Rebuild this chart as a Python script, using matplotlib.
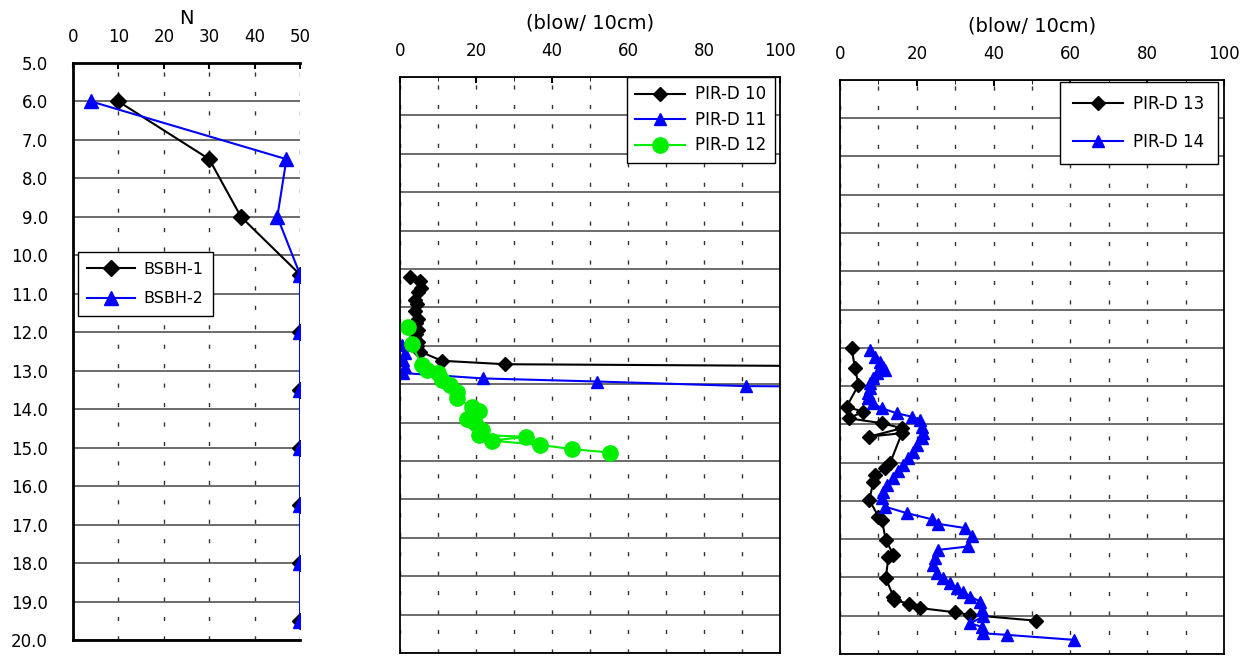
import numpy as np
import matplotlib
matplotlib.use('Agg')
import matplotlib.pyplot as plt

# ---- data (depth in m, N or blow/10cm) ----
bsbh1_n = [10, 30, 37, 50, 50, 50, 50, 50, 50, 50]
bsbh1_d = [6.0, 7.5, 9.0, 10.5, 12.0, 13.5, 15.0, 16.5, 18.0, 19.5]
bsbh2_n = [4, 47, 45, 50, 50, 50, 50, 50, 50, 50]
bsbh2_d = [6.0, 7.5, 9.0, 10.5, 12.0, 13.5, 15.0, 16.5, 18.0, 19.5]

pird10_n = [2.6, 5.3, 5.6, 4.7, 3.9, 4.4, 3.9, 4.7, 4.2, 4.7, 4.2, 4.7, 4.4, 5.3, 11.0, 27.6, 150]
pird10_d = [10.2, 10.3, 10.5, 10.6, 10.8, 10.9, 11.1, 11.3, 11.4, 11.6, 11.7, 11.9, 12.0, 12.15, 12.39, 12.48, 12.55]

pird11_n = [0.5, 1.3, 0.8, 1.3, 0.8, 21.9, 51.9, 91.0, 150]
pird11_d = [11.98, 12.19, 12.37, 12.55, 12.71, 12.85, 12.93, 13.05, 13.08]

pird12_n = [2.0, 3.1, 5.7, 7.0, 10.1, 11.0, 13.2, 14.9, 15.1, 18.9, 20.9, 17.7, 19.7,
            21.5, 20.8, 33.1, 24.1, 36.8, 45.2, 55.3]
pird12_d = [11.50, 11.96, 12.50, 12.63, 12.72, 12.89, 13.02, 13.20, 13.37, 13.59, 13.69,
            13.91, 14.02, 14.19, 14.32, 14.37, 14.47, 14.58, 14.69, 14.78]

pird13_n = [3.0, 3.9, 4.8, 1.7, 6.1, 2.2, 10.9, 16.1, 7.6, 16.1, 13.0, 11.7, 9.1, 8.7,
            7.6, 10.0, 10.9, 11.9, 13.9, 12.6, 11.9, 13.9, 14.1, 18.0, 20.8, 29.9, 33.9, 51.0]
pird13_d = [12.01, 12.53, 12.97, 13.54, 13.67, 13.84, 13.97, 14.10, 14.32, 14.23, 15.02,
            15.15, 15.32, 15.50, 15.97, 16.41, 16.50, 17.02, 17.41, 17.47, 18.02, 18.50,
            18.59, 18.69, 18.80, 18.91, 18.98, 19.13]

pird14_n = [7.8, 9.1, 10.4, 11.3, 11.7, 9.6, 8.7, 7.8, 7.8, 7.4, 7.4, 8.7, 10.9, 14.8,
            18.7, 20.8, 21.3, 21.7, 21.3, 20.0, 19.1, 17.8, 16.5, 15.2, 13.9, 12.2, 11.3,
            10.9, 11.7, 17.4, 23.9, 25.6, 32.6, 34.3, 33.4, 25.6, 24.7, 24.3, 25.2, 26.9,
            28.6, 30.4, 32.1, 33.9, 36.5, 36.9, 37.3, 33.9, 36.9, 37.3, 43.4, 60.8]
pird14_d = [12.06, 12.23, 12.36, 12.49, 12.58, 12.66, 12.79, 12.93, 13.06, 13.19, 13.32,
            13.45, 13.58, 13.71, 13.80, 13.88, 14.06, 14.23, 14.36, 14.54, 14.71, 14.88,
            15.06, 15.23, 15.41, 15.58, 15.76, 15.93, 16.15, 16.32, 16.48, 16.60, 16.71,
            16.93, 17.19, 17.28, 17.50, 17.67, 17.89, 18.02, 18.15, 18.28, 18.37, 18.50,
            18.63, 18.85, 19.02, 19.20, 19.29, 19.46, 19.50, 19.63]

depth_ticks = np.arange(5, 21, 1)
depth_labels = ['%.1f' % d for d in depth_ticks]

fig = plt.figure(figsize=(12.46, 6.57), dpi=100)
dash = (0, (3, 11))


def setup(ax, xmax, major, minor, title, xpad, tpad):
    ax.set_xlim(0, xmax)
    ax.set_ylim(20, 5)
    ax.set_yticks(depth_ticks)
    ax.set_xticks(np.arange(0, xmax + 1, major))
    ax.set_xticks(np.arange(0, xmax + 1, minor), minor=True)
    ax.xaxis.tick_top()
    ax.tick_params(axis='x', which='major', direction='in', length=4, width=1.5,
                   pad=xpad, labelsize=12)
    ax.tick_params(axis='x', which='minor', direction='in', length=3)
    ax.tick_params(axis='y', length=0)
    ax.yaxis.grid(True, color='#444444', lw=1.1, ls='-')
    ax.xaxis.grid(True, which='both', color='#333333', lw=1.0, ls=dash)
    ax.set_axisbelow(True)
    ax.set_title(title, fontsize=14, pad=tpad)


# panel 1
ax1 = fig.add_axes([0.0586, 0.0259, 0.1822, 0.8782])
setup(ax1, 50, 10, 10, 'N', 12, 3)
ax1.set_yticklabels(depth_labels, fontsize=12)
ax1.tick_params(axis='y', pad=18)
for s in ax1.spines.values():
    s.set_linewidth(2)
ax1.spines['right'].set_visible(False)
ax1.plot(bsbh1_n, bsbh1_d, color='k', marker='D', ms=8, lw=1.5, label='BSBH-1')
ax1.plot(bsbh2_n, bsbh2_d, color='#0000ff', marker='^', ms=10, lw=1.5, label='BSBH-2')
ax1.legend(loc='upper left', bbox_to_anchor=(0.02, 0.672), borderaxespad=0,
           fancybox=False, edgecolor='k', framealpha=1, handlelength=3,
           fontsize=11.5, labelspacing=0.9, borderpad=0.6, handletextpad=0.5)

# panel 2
ax2 = fig.add_axes([0.321, 0.0061, 0.305, 0.8767])
setup(ax2, 100, 20, 10, '(blow/ 10cm)', 12, 10)
ax2.set_yticklabels([])
for s in ax2.spines.values():
    s.set_linewidth(1.3)
ax2.plot(pird10_n, pird10_d, color='k', marker='D', ms=7, lw=1.5, label='PIR-D 10')
ax2.plot(pird11_n, pird11_d, color='#0000ff', marker='^', ms=9, lw=1.5, label='PIR-D 11')
ax2.plot(pird12_n, pird12_d, color='#00ee00', marker='o', ms=11, lw=1.5, label='PIR-D 12')
ax2.legend(loc='upper right', bbox_to_anchor=(0.987, 1.0), borderaxespad=0,
           fancybox=False, edgecolor='k', framealpha=1, handlelength=3,
           fontsize=12, labelspacing=0.45, borderpad=0.5, handletextpad=0.6)

# panel 3
ax3 = fig.add_axes([0.6742, 0.0046, 0.3082, 0.8737])
setup(ax3, 100, 20, 10, '(blow/ 10cm)', 12, 10)
ax3.set_yticklabels([])
for s in ax3.spines.values():
    s.set_linewidth(1.3)
ax3.plot(pird13_n, pird13_d, color='k', marker='D', ms=7, lw=1.5, label='PIR-D 13')
ax3.plot(pird14_n, pird14_d, color='#0000ff', marker='^', ms=9, lw=1.5, label='PIR-D 14')
ax3.legend(loc='upper right', bbox_to_anchor=(0.984, 0.997), borderaxespad=0,
           fancybox=False, edgecolor='k', framealpha=1, handlelength=3,
           fontsize=12, labelspacing=1.2, borderpad=0.8, handletextpad=0.6)

plt.savefig('out.png', dpi=100)
